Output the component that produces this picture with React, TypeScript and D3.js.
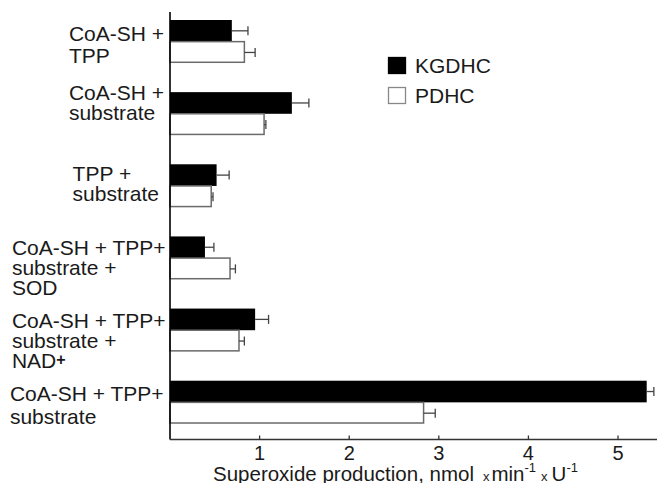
import React from "react";
import * as d3 from "d3";

const categories: string[][] = [
  ["CoA-SH +", "TPP"],
  ["CoA-SH +", "substrate"],
  ["TPP +", "substrate"],
  ["CoA-SH + TPP+", "substrate +", "SOD"],
  ["CoA-SH + TPP+", "substrate +", "NAD+"],
  ["CoA-SH + TPP+", "substrate"],
];
const kgdhc = [0.69, 1.36, 0.52, 0.39, 0.95, 5.32];
const kgdhcErr = [0.18, 0.19, 0.14, 0.1, 0.15, 0.08];
const pdhc = [0.83, 1.05, 0.46, 0.67, 0.77, 2.83];
const pdhcErr = [0.12, 0.02, 0.02, 0.06, 0.06, 0.13];
const xTicks = [1, 2, 3, 4, 5];
const seriesNames = ["KGDHC", "PDHC"];

// layout tweaks for label blocks (offset of first baseline from band centre, line height)
const labelShift = [-1, -14, -5, -3.5, -2.5, -1];
const labelLine = [22, 20, 20, 20, 20, 23];
const labelRight = [164, 164, 159, 166, 166, 164];

const W = 657;
const H = 483;
const FONT = "'Liberation Sans', Arial, sans-serif";
const FS = 21;

function measure(t: string, size: number) {
  const c = document.createElement("canvas").getContext("2d");
  if (!c) return t.length * size * 0.55;
  c.font = `${size}px 'Liberation Sans', Arial, sans-serif`;
  return c.measureText(t).width;
}

export default function App() {
  const x = d3.scaleLinear().domain([0, 5.435]).range([170, 657]);
  const y = d3
    .scaleBand<number>()
    .domain(d3.range(categories.length))
    .range([20, 424])
    .paddingInner(0.4)
    .paddingOuter(0);
  const bw = y.bandwidth();
  const half = bw / 2;
  const axisY = 439.5;
  const grey = "#6a6a6a";

  return (
    <svg
      width={W}
      height={H}
      style={{ position: "absolute", left: 0, top: 0, background: "#fff" }}
      fontFamily={FONT}
    >
      <rect width={W} height={H} fill="#fff" />
      {categories.map((lines, i) => {
        const y0 = y(i)!;
        const cy = y0 + half;
        const maxW = Math.max(...lines.map((l) => measure(l, FS)));
        const left = labelRight[i] - maxW;
        return (
          <g key={i}>
            {/* KGDHC */}
            <rect x={x(0)} y={y0} width={x(kgdhc[i]) - x(0)} height={half} fill="#000" />
            <line
              x1={x(kgdhc[i])}
              x2={x(kgdhc[i] + kgdhcErr[i])}
              y1={y0 + half / 2}
              y2={y0 + half / 2}
              stroke="#444"
              strokeWidth={1.3}
            />
            <line
              x1={x(kgdhc[i] + kgdhcErr[i])}
              x2={x(kgdhc[i] + kgdhcErr[i])}
              y1={y0 + half / 2 - 4.5}
              y2={y0 + half / 2 + 4.5}
              stroke="#444"
              strokeWidth={1.3}
            />
            {/* PDHC */}
            <rect
              x={x(0)}
              y={y0 + half}
              width={x(pdhc[i]) - x(0)}
              height={half - 1}
              fill="#fff"
              stroke={grey}
              strokeWidth={1.5}
            />
            <line
              x1={x(pdhc[i])}
              x2={x(pdhc[i] + pdhcErr[i])}
              y1={y0 + half * 1.5}
              y2={y0 + half * 1.5}
              stroke="#444"
              strokeWidth={1.3}
            />
            <line
              x1={x(pdhc[i] + pdhcErr[i])}
              x2={x(pdhc[i] + pdhcErr[i])}
              y1={y0 + half * 1.5 - 4.5}
              y2={y0 + half * 1.5 + 4.5}
              stroke="#444"
              strokeWidth={1.3}
            />
            <text fontSize={FS} fill="#1a1a1a">
              {lines.map((l, j) => {
                const base = cy + labelShift[i] + j * labelLine[i];
                if (l === "NAD+") {
                  return (
                    <tspan key={j} x={left} y={base}>
                      NAD
                      <tspan fontSize={16} dy={-3} fontWeight="bold">+</tspan>
                    </tspan>
                  );
                }
                return (
                  <tspan key={j} x={left} y={base}>
                    {l}
                  </tspan>
                );
              })}
            </text>
          </g>
        );
      })}

      {/* axes */}
      <line x1={x(0)} x2={x(0)} y1={12} y2={axisY} stroke="#000" strokeWidth={1.6} />
      <line x1={x(0)} x2={W} y1={axisY} y2={axisY} stroke="#333" strokeWidth={1.6} />
      {xTicks.map((t) => (
        <g key={t}>
          <line x1={x(t)} x2={x(t)} y1={axisY - 4} y2={axisY} stroke="#333" strokeWidth={1.3} />
          <text x={x(t)} y={459.5} fontSize={20} textAnchor="middle" fill="#1a1a1a">
            {t}
          </text>
        </g>
      ))}
      <text x={213} y={480.5} fontSize={20.5} fill="#1a1a1a">
        Superoxide production, nmol
        <tspan fontSize={13} dx={9}>x</tspan>
        <tspan dx={2}>min</tspan>
        <tspan fontSize={13} dy={-9}>-1</tspan>
        <tspan fontSize={13} dx={5} dy={9}>x</tspan>
        <tspan dx={4}>U</tspan>
        <tspan fontSize={13} dy={-9}>-1</tspan>
      </text>

      {/* legend */}
      {seriesNames.map((s, i) => (
        <g key={s}>
          <rect
            x={388.5}
            y={57.5 + i * 30}
            width={17}
            height={16}
            fill={i === 0 ? "#000" : "#fff"}
            stroke={i === 0 ? "#000" : "#888"}
            strokeWidth={1.3}
          />
          <text x={415} y={73 + i * 30} fontSize={FS} fill="#1a1a1a">
            {s}
          </text>
        </g>
      ))}
    </svg>
  );
}
